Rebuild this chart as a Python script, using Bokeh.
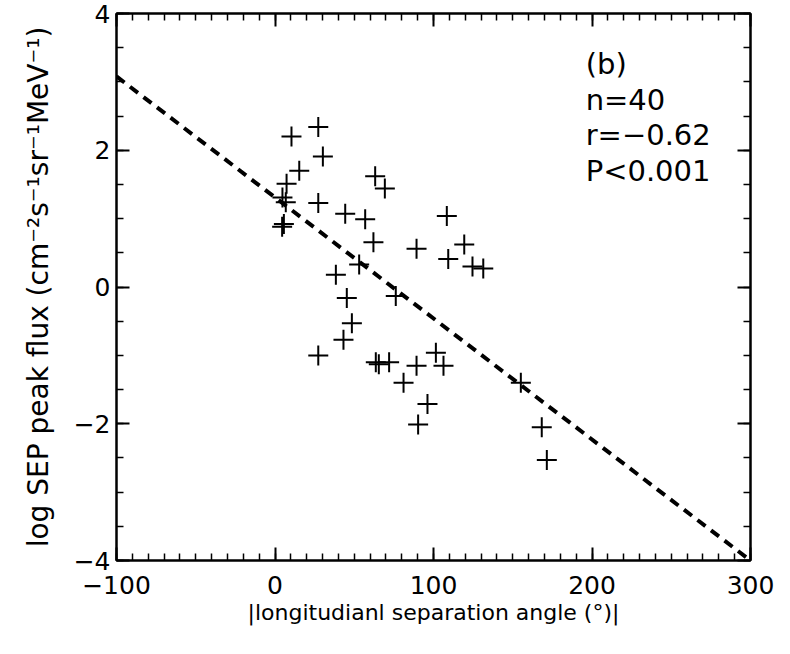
from bokeh.plotting import figure
from bokeh.models import LinearAxis, SingleIntervalTicker, Range1d, Label, ColumnDataSource
from bokeh.embed import file_html
from bokeh.resources import INLINE

# ---- data ----
sep_angle = [27.3, 10.4, 30.2, 15.3, 7.3, 63.2, 69.3, 4.7, 6.8, 27.3,
             5.6, 4.5, 44.3, 56.9, 62.1, 89.3, 119.4, 109.3, 124.6, 131.4,
             108.4, 53.1, 38.4, 76.2, 45.3, 48.5, 43.2, 27.3, 63.6, 65.5,
             72.0, 89.3, 101.5, 106.3, 81.1, 96.2, 90.3, 155.1, 168.3, 171.5]
log_flux = [2.34, 2.20, 1.91, 1.70, 1.51, 1.62, 1.44, 1.31, 1.24, 1.23,
            0.92, 0.88, 1.07, 0.99, 0.655, 0.56, 0.62, 0.41, 0.30, 0.27,
            1.04, 0.33, 0.18, -0.13, -0.16, -0.53, -0.77, -1.00, -1.10, -1.13,
            -1.10, -1.15, -0.96, -1.15, -1.40, -1.71, -2.01, -1.40, -2.05, -2.53]
fit_intercept = 1.31
fit_slope = -0.0177
fit_x = [-100, 300]
annot_lines = ["(b)", "n=40", "r=\u22120.62", "P<0.001"]
x_label = "|longitudianl separation angle (\u00b0)|"
y_label = "log SEP peak flux (cm\u207b\u00b2s\u207b\u00b9sr\u207b\u00b9MeV\u207b\u00b9)"

FONT = "DejaVu Sans"

p = figure(width=775, height=640, output_backend="svg", toolbar_location=None,
           x_range=Range1d(-100, 300), y_range=Range1d(-4, 4),
           min_border_left=116, min_border_right=25, min_border_top=13, min_border_bottom=80)
p.background_fill_color = "white"
p.border_fill_color = "white"
p.grid.visible = False
p.outline_line_color = "black"
p.outline_line_width = 2

def style_axis(ax, ticker, labels=True):
    ax.ticker = ticker
    ax.axis_line_width = 2
    ax.major_tick_in = 13
    ax.major_tick_out = 0
    ax.minor_tick_in = 7
    ax.minor_tick_out = 0
    ax.major_tick_line_width = 2
    ax.minor_tick_line_width = 1.5
    ax.major_label_text_font = FONT
    ax.major_label_text_font_size = "25px"
    ax.major_label_text_color = "black"
    ax.axis_label_text_font = FONT
    ax.axis_label_text_font_style = "normal"
    ax.axis_label_text_color = "black"
    if not labels:
        ax.major_label_text_font_size = "0px"
        ax.major_label_text_alpha = 0

xt = SingleIntervalTicker(interval=100, num_minor_ticks=10)
yt = SingleIntervalTicker(interval=2, num_minor_ticks=4)

xa = p.xaxis[0]
style_axis(xa, xt)
xa.major_label_overrides = {-100: "\u2212100"}
xa.major_label_standoff = 15
xa.axis_label = x_label
xa.axis_label_text_font_size = "22px"
xa.axis_label_standoff = 3

ya = p.yaxis[0]
style_axis(ya, yt)
ya.major_label_overrides = {-4: "\u22124", -2: "\u22122"}
ya.major_label_standoff = 6
ya.axis_label = y_label
ya.axis_label_text_font_size = "28px"
ya.axis_label_standoff = 16

top = LinearAxis()
style_axis(top, SingleIntervalTicker(interval=100, num_minor_ticks=10), labels=False)
p.add_layout(top, "above")
right = LinearAxis()
style_axis(right, SingleIntervalTicker(interval=2, num_minor_ticks=4), labels=False)
p.add_layout(right, "right")

# regression line
fit_y = [fit_intercept + fit_slope * x for x in fit_x]
p.line(fit_x, fit_y, line_color="black", line_width=4, line_dash="10 7")

# data points
src = ColumnDataSource(dict(x=sep_angle, y=log_flux))
p.scatter("x", "y", source=src, marker="cross", size=20, line_color="black", line_width=2)

# annotation text
for i, t in enumerate(annot_lines):
    p.add_layout(Label(x=196, y=3.26 - 0.52 * i, text=t, text_font=FONT,
                       text_font_size="29px", text_baseline="middle", text_color="black"))

open("out.html", "w").write(file_html(p, INLINE))
